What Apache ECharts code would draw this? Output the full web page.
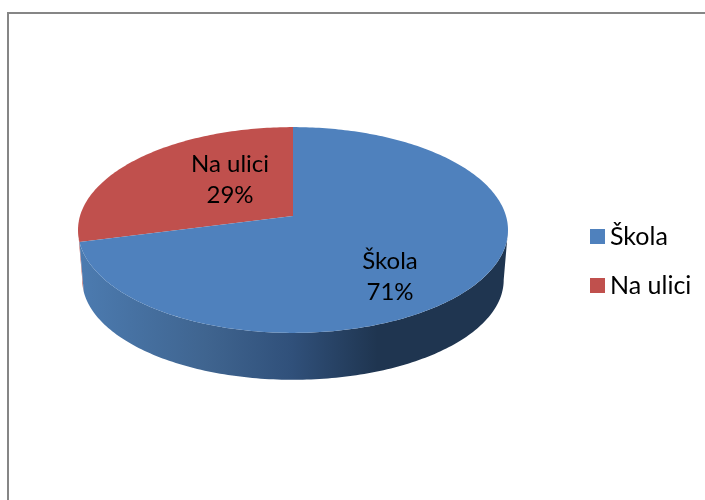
<!DOCTYPE html>
<html>
<head>
<meta charset="utf-8">
<script src="https://cdn.jsdelivr.net/npm/echarts@6/dist/echarts.min.js"></script>
<style>
    html,body{margin:0;padding:0;background:#fff;}
    #main{width:705px;height:500px;}
</style>
</head>
<body>
<div id="main"></div>
<script>
const categories = ['Škola', 'Na ulici'];
const values = [71, 29];
const colors = ['#4f81bd', '#c0504d'];

// pie geometry, the disc is seen in perspective (k) so the hub sits above the ellipse centre
const cx = 293, cy = 216, rx = 213, ry = 101, k = 0.136;
const depth = 50, bottomScale = 0.98;
const frontFrom = 90 + Math.asin(k) * 180 / Math.PI;
const frontTo = 360 - frontFrom;
const labelPos = [[390, 277], [230, 180]];

const total = values.reduce((a, b) => a + b, 0);

function topPoint(deg) {
    const t = deg * Math.PI / 180;
    const u = Math.sin(t), v = -Math.cos(t);
    const w = 1 - k * v;
    return [cx + rx * u / w, cy + ry * v / w];
}
function bottomPoint(deg) {
    const p = topPoint(deg);
    return [cx + (p[0] - cx) * bottomScale, cy + 14 + depth + (p[1] - cy - 14) * 0.97];
}
function arc(from, to, fn) {
    const pts = [], n = Math.max(2, Math.ceil(Math.abs(to - from)));
    for (let i = 0; i <= n; i++) pts.push(fn(from + (to - from) * i / n));
    return pts;
}

function sliceItem(idx) {
    const before = values.slice(0, idx).reduce((a, b) => a + b, 0);
    return function (params, api) {
        const a0 = before / total * 360;
        const a1 = a0 + api.value(0) / total * 360;
        const children = [];
        const w0 = Math.max(a0, frontFrom), w1 = Math.min(a1, frontTo);
        if (w1 > w0) {
            const wall = arc(w0, w1, topPoint).concat(arc(w1, w0, bottomPoint));
            children.push({
                type: 'polygon',
                shape: { points: wall },
                style: {
                    fill: idx === 0 ? {
                        type: 'linear', x: 80, y: 0, x2: 505, y2: 0, global: true,
                        colorStops: [
                            { offset: 0, color: '#4c7bb0' },
                            { offset: 0.3, color: '#3f648f' },
                            { offset: 0.5, color: '#30507a' },
                            { offset: 0.7, color: '#1f3550' },
                            { offset: 1, color: '#1f3550' }
                        ]
                    } : '#b24a47'
                }
            });
        }
        const face = [[cx, cy]].concat(arc(a0, a1, topPoint));
        children.push({
            type: 'polygon',
            shape: { points: face },
            style: { fill: colors[idx] }
        });
        children.push({
            type: 'text',
            z2: 10,
            style: {
                x: labelPos[idx][0],
                y: labelPos[idx][1],
                text: categories[idx] + '\n' + Math.round(api.value(0) / total * 100) + '%',
                font: '24px Lato',
                lineHeight: 31,
                fill: '#000',
                align: 'center',
                verticalAlign: 'middle'
            }
        });
        return { type: 'group', children: children };
    };
}

const chart = echarts.init(document.getElementById('main'));
chart.setOption({
    animation: false,
    backgroundColor: '#fff',
    legend: {
        data: categories,
        orient: 'vertical',
        left: 585,
        top: 219,
        itemWidth: 15,
        itemHeight: 15,
        itemGap: 24,
        icon: 'rect',
        textStyle: { fontFamily: 'Lato', fontSize: 25, color: '#000' },
        selectedMode: false
    },
    graphic: [{
        type: 'polyline',
        shape: { points: [[8, 500], [8, 13], [705, 13]] },
        style: { stroke: '#868686', lineWidth: 2, fill: 'none' }
    }],
    // drawn back to front: the red slice first, blue wall goes over it
    series: categories.map((name, i) => ({
        type: 'custom',
        name: name,
        coordinateSystem: 'none',
        silent: true,
        z: 2 + (categories.length - i),
        itemStyle: { color: colors[i] },
        renderItem: sliceItem(i),
        data: [values[i]]
    }))
});
</script>
</body>
</html>
